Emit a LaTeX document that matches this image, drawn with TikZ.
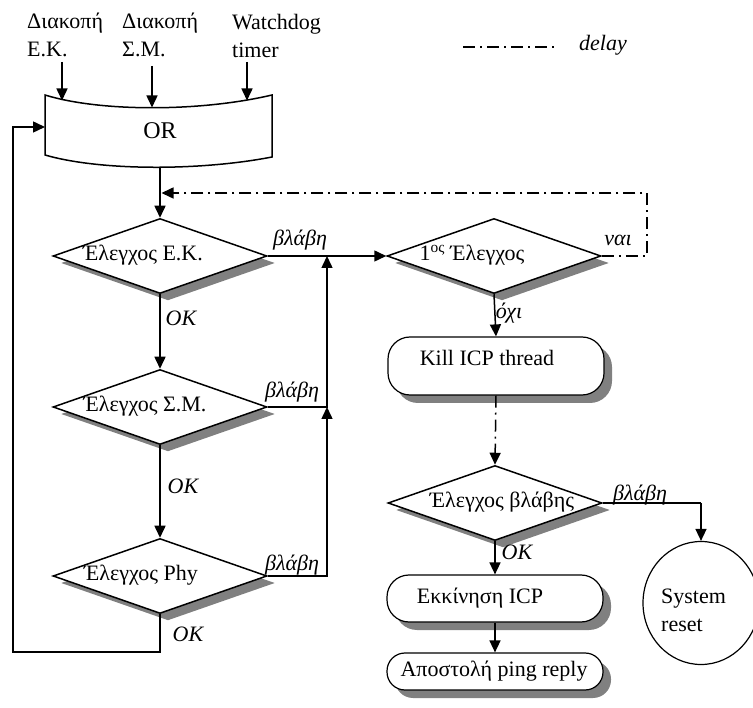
\documentclass[tikz,border=0pt]{standalone}
\usepackage{fontspec}
\setmainfont{Liberation Serif}
\usetikzlibrary{arrows.meta,shapes.geometric,shadows}

\begin{document}
\begin{tikzpicture}[x=1pt,y=-1pt,
  every node/.style={font=\fontsize{22}{28}\selectfont, inner sep=0pt},
  tip/.style={-{Triangle[length=12pt,width=11pt]}},
  flow/.style={line width=1.5pt, tip},
  link/.style={line width=1.5pt},
  delayline/.style={line width=1.5pt, dash pattern=on 12pt off 5pt on 2pt off 5pt},
  tag/.style={font=\fontsize{22}{26}\selectfont\itshape},
  decision/.style={diamond, draw, line width=1.5pt, fill=white,
    minimum width=214pt, minimum height=75pt,
    general shadow={fill=black!50, shadow xshift=8pt, shadow yshift=-7pt}},
  terminal/.style={rectangle, draw, line width=1.2pt, fill=white,
    rounded corners=22pt, minimum width=216pt,
    general shadow={fill=black!50, shadow xshift=8pt, shadow yshift=-8pt}}
]
\useasboundingbox (0,0) rectangle (753,708);

% ---------- inputs ----------
\node[align=left, anchor=west] (inEK) at (27,35) {Διακοπή\\Ε.Κ.};
\node[align=left, anchor=west] (inSM) at (122,35) {Διακοπή\\Σ.Μ.};
\node[align=left, anchor=west] (inWD) at (232,36) {Watchdog\\timer};

\coordinate (s1) at (62,62);
\coordinate (s2) at (152,66);
\coordinate (s3) at (247,62);
\coordinate (t1) at (62,100.5);
\coordinate (t2) at (152,107.5);
\coordinate (t3) at (247,100.5);

% ---------- OR block ----------
\draw[line width=1.5pt, fill=white]
  (45,95) .. controls (100,112) and (200,112) .. (272,95)
  -- (272,157) .. controls (200,171) and (100,171) .. (45,155) -- cycle;
\node[font=\fontsize{24}{28}\selectfont] (or) at (160,131) {OR};
\coordinate (orleft) at (45,127);
\coordinate (orbot) at (160,167);

\draw[flow] (s1) -- (t1);
\draw[flow] (s2) -- (t2);
\draw[flow] (s3) -- (t3);

% ---------- legend ----------
\coordinate (lg1) at (463,47);
\coordinate (lg2) at (558,47);
\draw[delayline] (lg1) -- (lg2);
\node[tag] (lgt) at (603,45) {delay};

% ---------- left column of checks ----------
\node[decision] (d1) at (160,256) {};
\node (d1t) at (143,255) {Έλεγχος Ε.Κ.};
\node[decision] (d2) at (160,407) {};
\node (d2t) at (145,406) {Έλεγχος Σ.Μ.};
\node[decision] (d3) at (160,576) {};
\node (d3t) at (141,575) {Έλεγχος Phy};

\draw[flow] (orbot) -- (d1.north);
\draw[flow] (d1.south) -- (d2.north);
\draw[flow] (d2.south) -- (d3.north);
\node[tag] (ok1) at (181,318) {OK};
\node[tag] (ok2) at (183,486) {OK};
\node[tag] (ok3) at (188,634) {OK};

\coordinate (lb) at (13,652);
\draw[flow] (d3.south) |- (lb) |- (orleft);

% ---------- fault paths ----------
\coordinate (j1) at (327,256);
\coordinate (j2) at (327,407);
\node[decision] (d4) at (494,256) {};
\node (d4t) at (472,255) {1\textsuperscript{ος} Έλεγχος};

\draw[flow] (d1.east) -- (d4.west);
\draw[flow] (d2.east) -| (j1);
\draw[flow] (d3.east) -| (j2);
\node[tag] (f1) at (300,240) {βλάβη};
\node[tag] (f2) at (292,392) {βλάβη};
\node[tag] (f3) at (292,565) {βλάβη};

% retry loop (delay)
\coordinate (dl) at (647,193);
\coordinate (dlend) at (161.5,193);
\draw[delayline, tip] (d4.east) -| (dl) -- (dlend);
\node[tag] (yes) at (618,240) {ναι};

% ---------- recovery ----------
\node[terminal, minimum height=58pt] (kill) at (496,366) {};
\node (killt) at (487,358) {Kill ICP thread};
\draw[flow] (d4.south) -- (kill.north);
\node[tag] (no) at (509,313) {όχι};

\node[decision] (d5) at (495,503) {};
\node (d5t) at (502,502) {Έλεγχος βλάβης};
\draw[delayline, tip] (kill.south) -- (d5.north);

\node[terminal, minimum height=47pt] (start) at (495,598.5) {};
\node (startt) at (480,598) {Εκκίνηση ICP};
\node[terminal, minimum height=37pt, rounded corners=18pt] (ping) at (495,671.5) {};
\node (pingt) at (494,671) {Αποστολή ping reply};
\draw[flow] (d5.south) -- (start.north);
\draw[flow] (start.south) -- (ping.north);
\node[tag] (ok4) at (517,552) {OK};

\node[ellipse, draw, line width=1.2pt, minimum width=116pt, minimum height=123pt] (reset) at (701,603) {};
\node[align=left, anchor=west] (resett) at (661,610) {System\\reset};
\coordinate (rk) at (701,503);
\draw[link] (d5.east) -- (rk);
\draw[flow] (rk) -- (reset.north);
\node[tag] (f5) at (640,495) {βλάβη};
\end{tikzpicture}
\end{document}
